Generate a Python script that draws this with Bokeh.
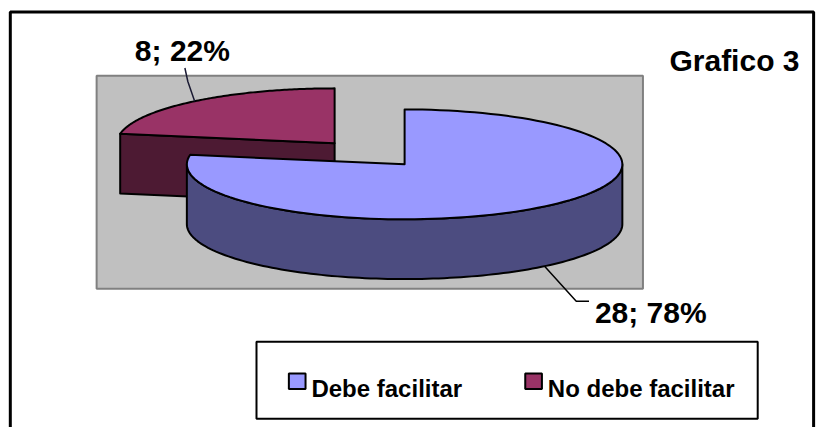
import math
from bokeh.plotting import figure
from bokeh.models import Range1d
from bokeh.core.properties import value
from bokeh.embed import file_html
from bokeh.resources import INLINE

# ---- data ----
categories = ["Debe facilitar", "No debe facilitar"]
counts = [28, 8]
title_text = "Grafico 3"

# ---- styles ----
top_colors = ["#9999FF", "#993366"]
side_colors = ["#4C4C80", "#4D1A33"]
explode = [0.0, 0.5]
FONT = "Liberation Sans"

W, H = 819, 427
p = figure(width=W, height=H, x_range=Range1d(0, 835), y_range=Range1d(443, 0),
           output_backend="svg", toolbar_location=None, min_border=0,
           x_axis_location=None, y_axis_location=None)
p.grid.visible = False
p.outline_line_color = None
p.background_fill_color = "white"
p.border_fill_color = "white"

# outer chart border (bottom lies beyond the window)
p.quad(left=[10], right=[829], top=[12], bottom=[480], fill_color=None,
       line_color="black", line_width=3)

# plot area
p.quad(left=[98], right=[655], top=[78], bottom=[299], fill_color="#C0C0C0",
       line_color="#808080", line_width=2)

# ---- 3D pie geometry ----
cx, cy, rx, ry, depth = 412.0, 170.0, 222.0, 57.0, 62.0
total = sum(counts)

def pt(ccx, ccy, a, dz=0.0):
    r = math.radians(a)
    return ccx + rx * math.cos(r), ccy - ry * math.sin(r) + dz

def arc(ccx, ccy, a0, a1, dz=0.0, n=120):
    xs, ys = [], []
    for k in range(n + 1):
        a = a0 + (a1 - a0) * k / n
        x, y = pt(ccx, ccy, a, dz)
        xs.append(x); ys.append(y)
    return xs, ys

slices = []
cum = 0.0
for i, v in enumerate(counts):
    sweep = 360.0 * v / total
    a_hi = 90.0 - cum
    a_lo = a_hi - sweep
    cum += sweep
    mid = (a_lo + a_hi) / 2
    ocx = cx + explode[i] * rx * math.cos(math.radians(mid))
    ocy = cy - explode[i] * ry * math.sin(math.radians(mid))
    slices.append(dict(i=i, a_lo=a_lo, a_hi=a_hi, mid=mid, cx=ocx, cy=ocy))

order = sorted(slices, key=lambda s: -math.sin(math.radians(s["mid"])))
for s in order:
    i = s["i"]; scx, scy = s["cx"], s["cy"]
    a_lo, a_hi = s["a_lo"], s["a_hi"]
    side_xs, side_ys = [], []
    # outer wall (front half)
    for k in range(-2, 3):
        lo = max(a_lo, -180 + 360 * k)
        hi = min(a_hi, 360 * k)
        if lo < hi:
            tx, ty = arc(scx, scy, lo, hi)
            bx, by = arc(scx, scy, hi, lo, depth)
            side_xs.append(tx + bx); side_ys.append(ty + by)
    # radial faces
    for a, vis in ((a_lo, math.cos(math.radians(a_lo)) > 1e-6),
                   (a_hi, math.cos(math.radians(a_hi)) < -1e-6)):
        if vis:
            rx0, ry0 = pt(scx, scy, a)
            side_xs.append([scx, rx0, rx0, scx])
            side_ys.append([scy, ry0, ry0 + depth, scy + depth])
    if side_xs:
        p.patches(side_xs, side_ys, fill_color=side_colors[i], line_color="black",
                  line_width=2, line_join="round")
    tx, ty = arc(scx, scy, a_lo, a_hi)
    p.patch([scx] + tx + [scx], [scy] + ty + [scy], fill_color=top_colors[i],
            line_color="black", line_width=2, line_join="round")

# ---- data labels with leader lines ----
lab_font = "30px"
s0, s1 = slices[0], slices[1]
ax, ay = pt(s0["cx"], s0["cy"], s0["mid"], depth)
p.line([ax, 587, 600], [ay, 312, 312], line_color="black", line_width=1.5)
bx_, by_ = pt(s1["cx"], s1["cy"], s1["mid"])
p.line([bx_, 191, 188], [by_, 84, 70], line_color="#1a1a33", line_width=1.5)

def lbl(v):
    return f"{v}; {round(100 * v / total)}%"

p.text(x=[606], y=[324], text=[lbl(counts[0])], text_font=value(FONT),
       text_font_style="bold", text_font_size=lab_font, text_baseline="alphabetic",
       text_color="black")
p.text(x=[137], y=[52], text=[lbl(counts[1])], text_font=value(FONT),
       text_font_style="bold", text_font_size=lab_font, text_baseline="alphabetic",
       text_color="black")

# title
p.text(x=[682], y=[62], text=[title_text], text_font=value(FONT),
       text_font_style="bold", text_font_size="30px", text_baseline="alphabetic",
       text_color="black")

# ---- legend ----
p.quad(left=[261], right=[772], top=[354], bottom=[434], fill_color="white",
       line_color="black", line_width=2)
sq_x = [294, 535]
txt_x = [317, 558]
p.quad(left=sq_x, right=[x + 17 for x in sq_x], top=[387, 387], bottom=[403, 403],
       fill_color=top_colors, line_color="black", line_width=2)
p.text(x=txt_x, y=[403, 403], text=categories, text_font=value(FONT),
       text_font_style="bold", text_font_size="24px", text_baseline="alphabetic",
       text_color="black")

open("out.html", "w").write(file_html(p, INLINE))
